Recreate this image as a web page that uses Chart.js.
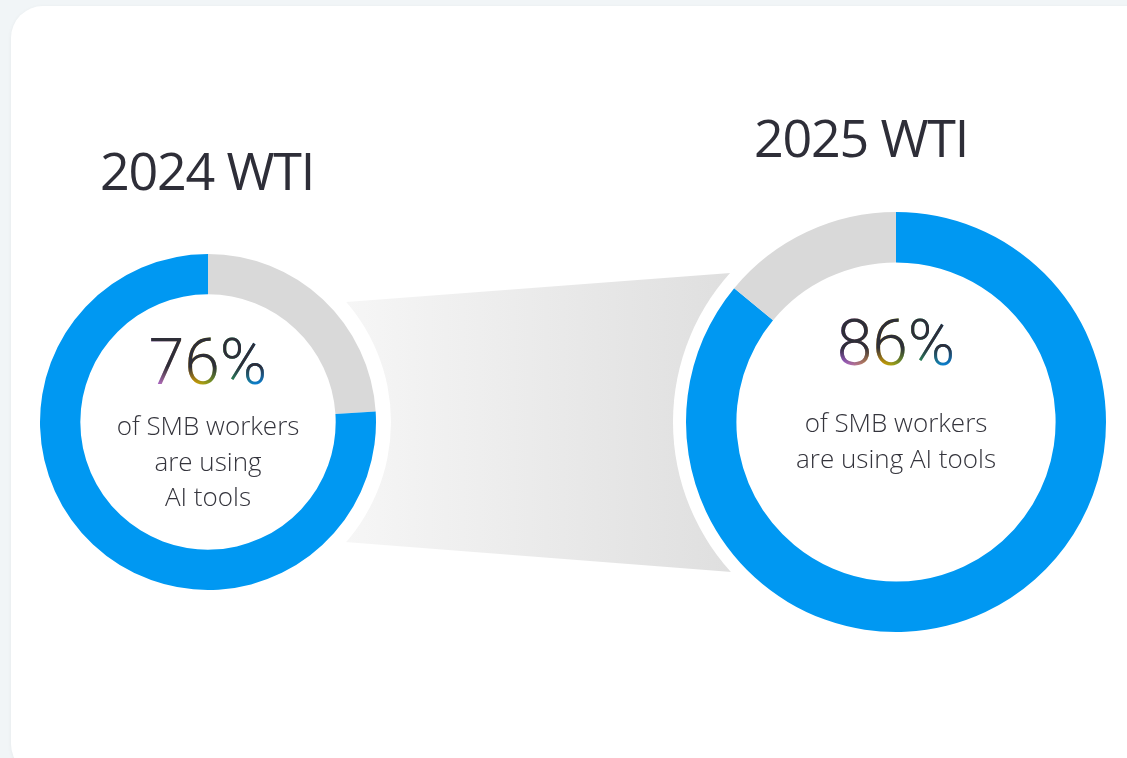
<!DOCTYPE html>
<html>
<head>
<meta charset="utf-8">
<script src="https://cdn.jsdelivr.net/npm/chart.js@4.4.1/dist/chart.umd.min.js"></script>
<style>
  html, body { margin: 0; padding: 0; }
  body { width: 1127px; height: 758px; background: #f1f5f7; position: relative; overflow: hidden; font-family: "Open Sans", sans-serif; }
  .card { position: absolute; left: 11px; top: 6px; width: 1150px; height: 770px; background: #fff; border-radius: 32px; box-shadow: 0 1px 4px rgba(0,0,0,0.05); }
  #bg { position: absolute; left: 0; top: 0; }
  .title { position: absolute; font-size: 52px; line-height: 1; letter-spacing: -1.2px; color: #2e2e38; white-space: nowrap; transform: translateX(-50%); }
  canvas.ring { position: absolute; }
</style>
</head>
<body>
<div class="card"></div>
<canvas id="bg" width="1127" height="758"></canvas>
<div class="title" id="t0" style="left:207px; top:144px;"></div>
<div class="title" id="t1" style="left:861px; top:111px;"></div>
<canvas class="ring" id="c0" width="368" height="368" style="left:24px; top:238px;"></canvas>
<canvas class="ring" id="c1" width="452" height="452" style="left:670px; top:196px;"></canvas>
<script>
// Werte aus der Grafik
const years = ['2024 WTI', '2025 WTI'];
const usingAI = [76, 86];
const notUsing = [24, 14];
const captions = [
    ['of SMB workers', 'are using', 'AI tools'],
    ['of SMB workers', 'are using AI tools']
];

const BLUE = '#0098f2';
const GREY = '#d9d9d9';
const DARK = '#2e2e38';

document.getElementById('t0').textContent = years[0];
document.getElementById('t1').textContent = years[1];

// Verbindungsfläche zwischen den beiden Ringen
const bg = document.getElementById('bg').getContext('2d');
const grad = bg.createLinearGradient(346, 0, 730, 0);
grad.addColorStop(0, '#f6f6f6');
grad.addColorStop(1, '#dfdfdf');
bg.fillStyle = grad;
bg.beginPath();
bg.moveTo(300, 305.5);
bg.lineTo(780, 269.2);
bg.lineTo(780, 575.8);
bg.lineTo(300, 538.5);
bg.closePath();
bg.fill();

// weißer Rand um den Ring + Text in der Mitte
const ringPlugin = {
    id: 'ringDeco',
    beforeDatasetsDraw(chart, args, opts) {
        const arc = chart.getDatasetMeta(0).data[0];
        const ctx = chart.ctx;
        ctx.save();
        ctx.fillStyle = '#fff';
        ctx.beginPath();
        ctx.arc(arc.x, arc.y, arc.outerRadius + opts.halo, 0, Math.PI * 2);
        ctx.fill();
        ctx.restore();
    },
    afterDatasetsDraw(chart, args, opts) {
        const arc = chart.getDatasetMeta(0).data[0];
        const ctx = chart.ctx;
        const cx = arc.x, cy = arc.y;
        ctx.save();
        ctx.textAlign = 'center';
        ctx.textBaseline = 'alphabetic';

        // Prozentzahl mit Farbverlauf unten
        const txt = opts.value + '%';
        ctx.font = '300 64px Roboto';
        const w = ctx.measureText(txt).width;
        const by = cy + opts.pctY;
        const rainbow = ctx.createLinearGradient(cx - w / 2, 0, cx + w / 2, 0);
        rainbow.addColorStop(0.05, '#a65fd8');
        rainbow.addColorStop(0.38, '#d9a100');
        rainbow.addColorStop(0.66, '#2f9e44');
        rainbow.addColorStop(0.9, '#0a7fd0');
        ctx.fillStyle = rainbow;
        ctx.fillText(txt, cx, by);
        const fade = ctx.createLinearGradient(0, by - 46, 0, by);
        fade.addColorStop(0, DARK);
        fade.addColorStop(0.62, DARK);
        fade.addColorStop(1, 'rgba(46,46,56,0)');
        ctx.fillStyle = fade;
        ctx.fillText(txt, cx, by);

        ctx.font = '300 26px "Open Sans"';
        ctx.fillStyle = '#34343c';
        opts.lines.forEach((line, i) => {
            ctx.fillText(line, cx, cy + opts.lineY + i * opts.lineGap);
        });
        ctx.restore();
    }
};

function makeRing(id, data, colors, pad, deco) {
    new Chart(document.getElementById(id), {
        type: 'doughnut',
        data: {
            datasets: [{
                data: data,
                backgroundColor: colors,
                borderWidth: 0,
                hoverOffset: 0
            }]
        },
        options: {
            responsive: false,
            animation: false,
            cutout: '76%',
            layout: { padding: pad },
            plugins: {
                legend: { display: false },
                tooltip: { enabled: false },
                ringDeco: deco
            }
        },
        plugins: [ringPlugin]
    });
}

Promise.all([
    document.fonts.load('300 64px Roboto'),
    document.fonts.load('300 26px "Open Sans"')
]).then(() => {
    makeRing('c0', [notUsing[0], usingAI[0]], [GREY, BLUE], 16,
        { halo: 15, value: usingAI[0], lines: captions[0], pctY: -38, lineY: 13, lineGap: 35.5 });
    makeRing('c1', [usingAI[1], notUsing[1]], [BLUE, GREY], 16,
        { halo: 13, value: usingAI[1], lines: captions[1], pctY: -57, lineY: 10, lineGap: 36 });
});
</script>
</body>
</html>
